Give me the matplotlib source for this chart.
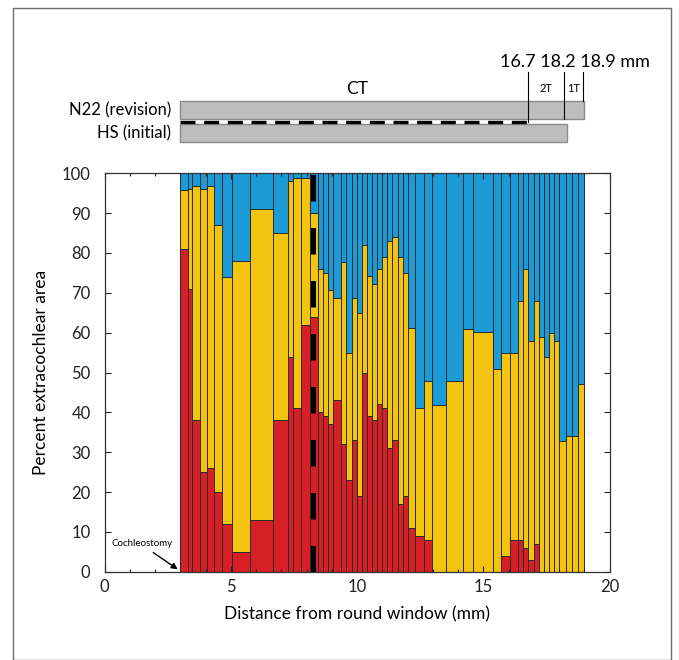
"""Extracochlear area along the electrode, stacked bars with CT schematic"""
import matplotlib
matplotlib.use('Agg')
import matplotlib.pyplot as plt
from matplotlib.patches import Rectangle
import numpy as np

plt.rcParams['font.family'] = ['Lato', 'DejaVu Sans']

# bar edges along the cochlea (mm from round window)
edges = [3.00, 3.30, 3.47, 3.78, 4.05, 4.35, 4.67, 5.06, 5.78, 6.69, 7.27, 7.47,
         7.79, 8.15, 8.45, 8.66, 8.86, 9.06, 9.36, 9.58, 9.79, 9.99, 10.20, 10.40,
         10.60, 10.79, 10.99, 11.19, 11.39, 11.61, 11.81, 12.03, 12.28, 12.66, 12.98,
         13.51, 14.21, 14.60, 15.38, 15.69, 16.07, 16.39, 16.59, 16.78, 16.99, 17.21,
         17.40, 17.61, 17.80, 18.00, 18.27, 18.50, 18.76, 18.98]
# red share (bottom segment), percent
red = [81, 71, 38, 25, 26, 20, 12, 5, 13, 38, 54, 41, 62, 64, 40, 39, 37, 43, 32,
       23, 33, 19, 50, 39, 38, 42, 41, 31, 33, 17, 19, 11, 9, 8, 0, 0, 0, 0, 0, 4,
       8, 8, 6, 3, 7, 0, 0, 0, 0, 0, 0, 0, 0]
# top of the yellow segment (red + yellow), percent; blue fills to 100
red_yellow = [95.8, 96.0, 96.8, 96.0, 96.8, 87.0, 74.0, 78.0, 91.0, 85.0, 98.0, 98.7,
              98.7, 90.0, 76.0, 75.0, 70.8, 68.8, 77.7, 54.9, 68.8, 64.9, 82.0, 74.1,
              72.1, 76.1, 79.0, 83.1, 83.9, 79.0, 75.0, 61.1, 41.0, 47.8, 41.9, 47.8,
              61.0, 60.1, 50.9, 55.0, 55.0, 68.0, 76.0, 58.0, 68.0, 58.9, 53.8, 60.0,
              58.0, 32.9, 34.0, 34.0, 47.0]

dash_pos = 8.27          # dashed marker in the bar plot
ct_marks = [16.75, 18.2, 18.95]
ct_labels = '16.7 18.2 18.9 mm'
n22_end = 19.0
hs_end = 18.3

RED = '#d71f27'
YEL = '#f2c410'
BLU = '#1b9ad6'

W, H = 679, 660
fig = plt.figure(figsize=(W / 100, H / 100), dpi=100)

def fx(px):
    return px / W

def fy(py):
    return 1 - py / H

# outer frame
fig.patches.append(Rectangle((fx(13), 0), fx(671) - fx(13), fy(8.3), transform=fig.transFigure,
                             fill=False, edgecolor='#6e6e6e', lw=1.0))

x0, x1 = 104.5, 609.6
y0, y1 = 173.3, 571.7
ax = fig.add_axes([fx(x0), fy(y1), fx(x1) - fx(x0), (y1 - y0) / H])

e = np.array(edges)
lefts = e[:-1]
widths = np.diff(e)
r = np.array(red, dtype=float)
ry = np.array(red_yellow, dtype=float)
ec = dict(edgecolor='#2b2b2b', linewidth=0.7, align='edge')
ax.bar(lefts, r, widths, color=RED, **ec)
ax.bar(lefts, ry - r, widths, bottom=r, color=YEL, **ec)
ax.bar(lefts, 100 - ry, widths, bottom=ry, color=BLU, **ec)

ax.axvline(dash_pos, color='black', lw=3.6, dashes=(5.3, 5.3))

ax.set_xlim(0, 20)
ax.set_ylim(0, 100)
ax.set_xticks([0, 5, 10, 15, 20])
ax.set_xticks(np.arange(0, 21, 1), minor=True)
ax.set_yticks(np.arange(0, 101, 10))
ax.tick_params(which='both', direction='in', top=True, right=True, width=0.8,
               labelsize=12, colors='#222222')
ax.tick_params(which='major', length=4)
ax.tick_params(which='minor', length=2.5)
ax.tick_params(axis='y', pad=10)
ax.tick_params(axis='x', pad=5)
for s in ax.spines.values():
    s.set_linewidth(0.9)
    s.set_color('#333333')
ax.set_xlabel('Distance from round window (mm)', fontsize=12.5)
ax.set_ylabel('Percent extracochlear area', fontsize=12.5)
ax.xaxis.set_label_coords(0.5, -0.086)
ax.yaxis.set_label_coords(-0.11, 0.5)

ax.text(1.5, 7.2, 'Cochleostomy', fontsize=7, ha='center', va='center')
ax.annotate('', xy=(2.9, 0.6), xytext=(1.93, 4.8),
            arrowprops=dict(arrowstyle='-|>', color='black', lw=1.0, mutation_scale=9,
                            shrinkA=0, shrinkB=0))

# schematic of electrode positions on top, x in data units, y in pixels
at = fig.add_axes([fx(x0), fy(y0), fx(x1) - fx(x0), y0 / H])
at.set_xlim(0, 20)
at.set_ylim(y0, 0)
at.axis('off')
grey = dict(facecolor='#bdbdbd', edgecolor='#8a8a8a', lw=1.0)
at.add_patch(Rectangle((3.0, 100.7), n22_end - 3.0, 18.6, **grey))
at.add_patch(Rectangle((3.0, 124.0), hs_end - 3.0, 17.7, **grey))
at.plot([3.0, ct_marks[0]], [121.7, 121.7], color='black', lw=2.4, dashes=(4.5, 2.6),
        solid_capstyle='butt')
at.plot([ct_marks[0]] * 2, [72, 121.7], color='black', lw=0.8)
at.plot([ct_marks[1]] * 2, [72, 119.3], color='black', lw=0.8)
at.plot([ct_marks[2]] * 2, [72, 100.7], color='black', lw=0.8)
at.text(10.0, 89, 'CT', fontsize=12.5, ha='center', va='center')
at.text((ct_marks[0] + ct_marks[1]) / 2, 89, '2T', fontsize=8, ha='center', va='center')
at.text((ct_marks[1] + ct_marks[2]) / 2, 89, '1T', fontsize=8, ha='center', va='center')
at.text(21.6, 62, ct_labels, fontsize=13, ha='right', va='center')
at.text(2.65, 110, 'N22 (revision)', fontsize=12, ha='right', va='center')
at.text(2.65, 133, 'HS (initial)', fontsize=12, ha='right', va='center')

fig.savefig('out.png', dpi=100)
